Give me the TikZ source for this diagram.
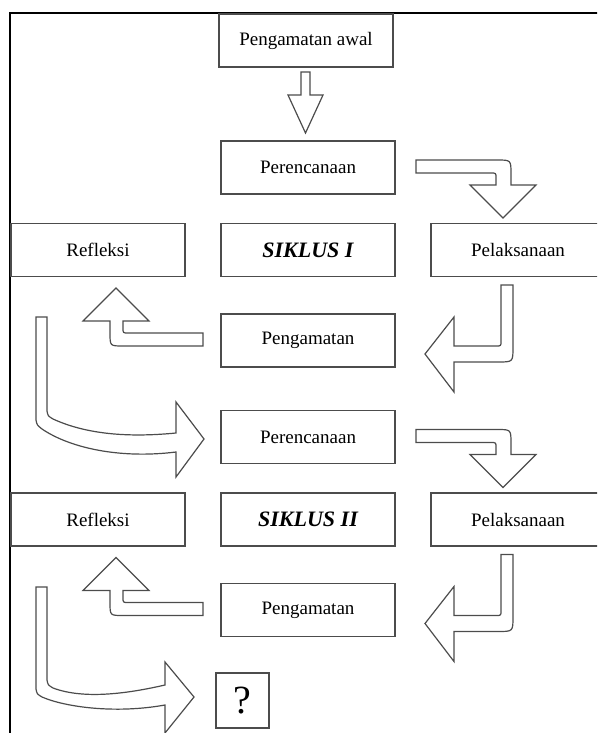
\documentclass[tikz,border=0pt]{standalone}
\usepackage{fontspec}
\setmainfont{Liberation Serif}
\usepackage{tikz}

\tikzset{
  stage/.style={draw=black!70, line width=1.2pt, minimum width=174pt,
    minimum height=53pt, inner sep=0pt, font=\fontsize{19}{22}\selectfont},
  siklus/.style={stage, font=\fontsize{22}{26}\selectfont\bfseries\itshape},
  fatarrow/.style={draw=black!70, line width=1.2pt, line join=miter}
}

\begin{document}
\begin{tikzpicture}[x=1pt, y=-1pt]
  \useasboundingbox (0,0) rectangle (597,733);
  \clip (0,0) rectangle (597,733);
  \draw [line width=2.4pt] (10,740) -- (10,13) -- (600,13);

  \node[stage] (awal) at (306,40.5) {Pengamatan awal};
  \draw[fatarrow] (301,72) -- (310,72) -- (310,95) -- (323,95) -- (305.5,133)
    -- (288,95) -- (301,95) -- cycle;

  % one cycle, repeated
  \foreach \s [count=\i from 0] in {I,II} {
  \begin{scope}[yshift={-269.5pt*\i}]
    \node[stage] (per\s) at (308,167.5) {Perencanaan};
    \node[stage] (ref\s) at (98,250) {Refleksi};
    \node[siklus] (sik\s) at (308,250) {SIKLUS \s};
    \node[stage] (pel\s) at (518,250) {Pelaksanaan};
    \node[stage] (pen\s) at (308,340.5) {Pengamatan};
    \draw[fatarrow] (416,160) -- (497,160) .. controls (511,160) .. (511,174)
      -- (511,185) -- (536,185) -- (503,218) -- (470,185) -- (496,185)
      -- (496,178) .. controls (496,173) .. (491,173) -- (416,173) -- cycle;
    \draw[fatarrow] (501,285) -- (513,285) -- (513,347) .. controls (513,362) .. (498,362)
      -- (454,362) -- (454,392) -- (425,354) -- (454,317) -- (454,346)
      -- (496,346) .. controls (501,346) .. (501,341) -- cycle;
    \draw[fatarrow] (203,333) -- (128,333) .. controls (123,333) .. (123,328)
      -- (123,321) -- (149,321) -- (116,288) -- (83,321) -- (110,321)
      -- (110,333) .. controls (110,346) .. (123,346) -- (203,346) -- cycle;
  \end{scope}
  }

  % Refleksi I -> Perencanaan II
  \draw[fatarrow] (36,317) -- (47,317) -- (47,411) .. controls (48,416) .. (53,419)
    .. controls (90,436) and (135,437) .. (176,433) -- (176,402) -- (204,439)
    -- (176,477) -- (176,452) .. controls (120,459) and (70,448) .. (42,429)
    .. controls (37,425) .. (36,420) -- cycle;

  % Refleksi II -> ?
  \node[draw=black!70, line width=1.2pt, minimum width=53pt, minimum height=55pt,
    inner sep=0pt, font=\fontsize{40}{44}\selectfont] (lanjut) at (242.5,700.5) {?};
  \draw[fatarrow] (36,587) -- (47,587) -- (47,680) .. controls (48,685) .. (53,688)
    .. controls (85,700) and (130,693) .. (165,685) -- (165,662) -- (194,697)
    -- (165,733) -- (165,705) .. controls (115,714) and (65,707) .. (42,697)
    .. controls (37,694) .. (36,689) -- cycle;
\end{tikzpicture}
\end{document}
